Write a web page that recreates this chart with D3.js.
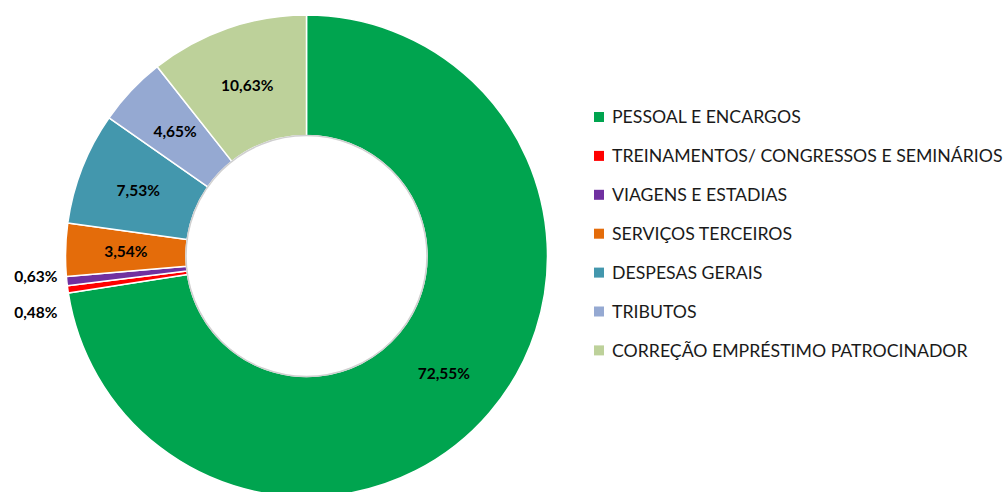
<!DOCTYPE html>
<html>
<head>
<meta charset="utf-8">
<script src="https://cdn.jsdelivr.net/npm/d3@7"></script>
<style>
  body { margin: 0; background: #fff; }
  svg { display: block; }
</style>
</head>
<body>
<svg id="chart" width="1008" height="492"></svg>
<script>
// categories and values, clockwise from 12 o'clock
var categories = ["PESSOAL E ENCARGOS", "TREINAMENTOS/ CONGRESSOS E SEMINÁRIOS", "VIAGENS E ESTADIAS",
                  "SERVIÇOS TERCEIROS", "DESPESAS GERAIS", "TRIBUTOS", "CORREÇÃO EMPRÉSTIMO PATROCINADOR"];
var values = [72.55, 0.48, 0.63, 3.54, 7.53, 4.65, 10.63];
var labels = ["72,55%", "0,48%", "0,63%", "3,54%", "7,53%", "4,65%", "10,63%"];
var colors = ["#00A44F", "#FF0000", "#7030A0", "#E46C0A", "#4397AD", "#95A9D2", "#BDD19A"];

var data = categories.map(function(c, i) {
    return { name: c, value: values[i], label: labels[i], color: colors[i], index: i };
});

var svg = d3.select("#chart");
var cx = 306.5, cy = 256, outerR = 241, innerR = 120.5;

var pie = d3.pie()
    .sort(null)
    .value(function(d) { return d.value; });

var arc = d3.arc()
    .innerRadius(innerR)
    .outerRadius(outerR);

var g = svg.append("g")
    .attr("transform", "translate(" + cx + "," + cy + ")");

var arcs = pie(data);

// slices
g.selectAll("path.slice")
    .data(arcs)
    .enter()
    .append("path")
    .attr("class", "slice")
    .attr("d", arc)
    .attr("fill", function(d) { return d.data.color; })
    .attr("stroke", "#fff")
    .attr("stroke-width", 1.5)
    .attr("stroke-linejoin", "round");

// faint shadow ring around the hole
g.append("circle")
    .attr("r", innerR)
    .attr("fill", "none")
    .attr("stroke", "#d0d0d0")
    .attr("stroke-width", 1.5);

// labels inside the ring
g.selectAll("text.inlabel")
    .data(arcs.filter(function(d) { return d.data.value >= 1; }))
    .enter()
    .append("text")
    .attr("class", "inlabel")
    .attr("transform", function(d) { return "translate(" + arc.centroid(d) + ")"; })
    .attr("text-anchor", "middle")
    .attr("dy", "0.36em")
    .style("font-family", "Lato, 'Open Sans', sans-serif")
    .style("font-weight", "bold")
    .style("font-size", "15.5px")
    .style("fill", "#000")
    .text(function(d) { return d.data.label; });

// small slices get their labels outside on the left, stacked
var small = arcs.filter(function(d) { return d.data.value < 1; })
    .sort(function(a, b) { return b.startAngle - a.startAngle; });

g.selectAll("text.outlabel")
    .data(small)
    .enter()
    .append("text")
    .attr("class", "outlabel")
    .attr("x", -outerR - 8)
    .attr("y", function(d, i) { return 20 + i * 36; })
    .attr("text-anchor", "end")
    .attr("dy", "0.36em")
    .style("font-family", "Lato, 'Open Sans', sans-serif")
    .style("font-weight", "bold")
    .style("font-size", "15.5px")
    .style("fill", "#000")
    .text(function(d) { return d.data.label; });

// legend
var legend = svg.append("g")
    .attr("class", "legend")
    .attr("transform", "translate(594,117)");

var row = legend.selectAll("g")
    .data(data)
    .enter()
    .append("g")
    .attr("transform", function(d, i) { return "translate(0," + (i * 38.9) + ")"; });

row.append("rect")
    .attr("x", 0)
    .attr("y", -5)
    .attr("width", 10)
    .attr("height", 10)
    .attr("fill", function(d) { return d.color; });

row.append("text")
    .attr("x", 18)
    .attr("dy", "0.36em")
    .style("font-family", "Lato, 'Open Sans', sans-serif")
    .style("font-size", "17.7px")
    .style("fill", "#1a1a1a")
    .text(function(d) { return d.name; });
</script>
</body>
</html>
